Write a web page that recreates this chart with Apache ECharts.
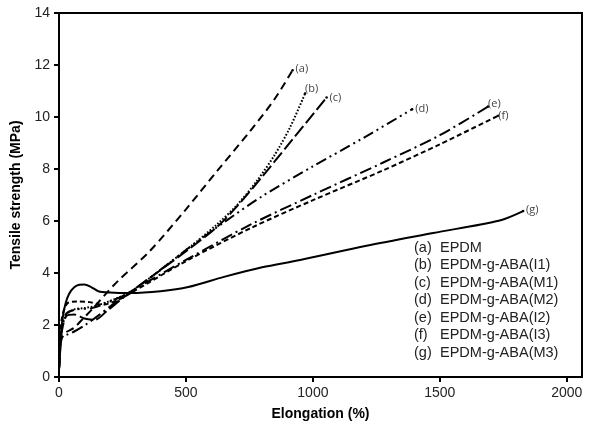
<!DOCTYPE html>
<html>
<head>
<meta charset="utf-8">
<script src="https://cdn.jsdelivr.net/npm/echarts@6/dist/echarts.min.js"></script>
<style>
html,body{margin:0;padding:0;background:#fff;}
#chart{width:599px;height:431px;}
</style>
</head>
<body>
<div id="chart"></div>
<script>
// ---- data (elongation %, tensile strength MPa) ----
const seriesNames = ['EPDM','EPDM-g-ABA(I1)','EPDM-g-ABA(M1)','EPDM-g-ABA(M2)','EPDM-g-ABA(I2)','EPDM-g-ABA(I3)','EPDM-g-ABA(M3)'];
const seriesTags = ['(a)','(b)','(c)','(d)','(e)','(f)','(g)'];
const xTicks = [0,500,1000,1500,2000];
const yTicks = [0,2,4,6,8,10,12,14];

const curveA = [[0,0.3],[4,0.9],[10,1.45],[25,1.7],[60,1.9],[100,2.3],[140,2.7],[180,3.15],[233,3.7],[358,4.85],[500,6.45],[621,7.9],[752,9.45],[850,10.7],[920,11.8]];
const curveB = [[0,0.3],[4,1.0],[12,1.9],[30,2.4],[60,2.6],[100,2.65],[150,2.75],[220,3.0],[286,3.3],[509,4.95],[620,5.85],[700,6.6],[780,7.55],[850,8.55],[910,9.6],[969,10.9]];
const curveC = [[0,0.3],[4,1.0],[12,1.8],[30,2.35],[60,2.4],[100,2.25],[140,2.2],[190,2.55],[240,2.95],[286,3.3],[509,4.9],[620,5.75],[700,6.55],[800,7.7],[900,8.9],[1054,10.75]];
const curveD = [[0,0.3],[4,1.1],[12,2.0],[30,2.45],[70,2.6],[130,2.65],[200,2.9],[286,3.3],[509,4.95],[650,5.95],[800,6.95],[1000,8.1],[1200,9.2],[1391,10.3]];
const curveE = [[0,0.3],[4,1.0],[10,1.55],[30,1.62],[60,1.75],[100,1.98],[160,2.4],[220,2.85],[286,3.3],[509,4.55],[752,5.85],[1000,7.0],[1277,8.25],[1500,9.3],[1690,10.4]];
const curveF = [[0,0.3],[4,1.2],[12,2.3],[35,2.85],[70,2.9],[120,2.88],[170,2.78],[230,2.95],[286,3.25],[509,4.5],[760,5.75],[1000,6.8],[1277,7.95],[1500,8.95],[1730,10.05]];
const curveG = [[0,0.3],[3,0.9],[8,1.7],[15,2.3],[25,2.8],[40,3.2],[60,3.45],[80,3.55],[100,3.56],[125,3.47],[155,3.3],[200,3.25],[280,3.23],[400,3.3],[509,3.46],[650,3.85],[800,4.22],[950,4.5],[1211,5.05],[1474,5.54],[1736,6.02],[1828,6.38]];

const curves = [curveA, curveB, curveC, curveD, curveE, curveF, curveG];
const dashes = [[8,5],[1.6,1.8],[13,4],[11,4,2,4,2,4],[12,4,2,4],[5,3],'solid'];
const labelOffsets = [[0,-1],[-3,-5],[0,0],[0,0],[-3,-3],[-3,0],[0,-1]];

const chart = echarts.init(document.getElementById('chart'), null, {renderer:'canvas'});

const series = curves.map((c, i) => ({
  type: 'line',
  name: seriesNames[i],
  data: c.map((p, j) => j === c.length - 1 ? {value: p, symbol: 'circle', symbolSize: 2.5} : {value: p, symbol: 'none'}),
  showSymbol: true,
  smooth: 0.3,
  itemStyle: {color: '#000'},
  lineStyle: {color: '#000', width: 2, type: dashes[i]},
  endLabel: {
    show: true,
    formatter: seriesTags[i],
    color: '#444',
    fontSize: 11,
    fontFamily: 'Open Sans',
    distance: 3,
    offset: labelOffsets[i]
  },
  emphasis: {disabled: true},
  animation: false,
  silent: true
}));

const legendGraphics = [];
seriesTags.forEach((t, i) => {
  const y = 248.3 + 17.5 * i;
  legendGraphics.push({type:'text', left: 414, top: y - 8, silent: true,
    style:{text: t, font: '14.5px "Liberation Sans", Arial, sans-serif', fill:'#222'}});
  legendGraphics.push({type:'text', left: 440, top: y - 8, silent: true,
    style:{text: seriesNames[i], font: '14.5px "Liberation Sans", Arial, sans-serif', fill:'#222'}});
});

chart.setOption({
  animation: false,
  backgroundColor: '#fff',
  grid: {left: 59, right: 17, top: 13, bottom: 54, show: true, borderColor: '#000', borderWidth: 2, backgroundColor: 'transparent'},
  xAxis: {
    type: 'value', min: 0, max: 2060,
    name: 'Elongation (%)', nameLocation: 'middle', nameGap: 30,
    nameTextStyle: {fontFamily: '"Liberation Sans", Arial', fontWeight: 'bold', fontSize: 14, color: '#000'},
    axisLine: {show: true, onZero: false, lineStyle: {color: '#000', width: 2}},
    axisTick: {show: true, inside: false, length: 5, lineStyle: {color: '#000', width: 2}, customValues: xTicks},
    axisLabel: {customValues: xTicks, margin: 9, fontFamily: '"Liberation Sans", Arial', fontSize: 14, color: '#222', formatter: v => String(v)},
    splitLine: {show: false}
  },
  yAxis: {
    type: 'value', min: 0, max: 14, interval: 2,
    name: 'Tensile strength (MPa)', nameLocation: 'middle', nameGap: 35, nameRotate: 90,
    nameTextStyle: {fontFamily: '"Liberation Sans", Arial', fontWeight: 'bold', fontSize: 14, color: '#000'},
    axisLine: {show: true, onZero: false, lineStyle: {color: '#000', width: 2}},
    axisTick: {show: true, inside: false, length: 5, lineStyle: {color: '#000', width: 2}, customValues: yTicks},
    axisLabel: {customValues: yTicks, margin: 9, fontFamily: '"Liberation Sans", Arial', fontSize: 14, color: '#222', formatter: v => String(v)},
    splitLine: {show: false}
  },
  series: series,
  graphic: legendGraphics
});
</script>
</body>
</html>
